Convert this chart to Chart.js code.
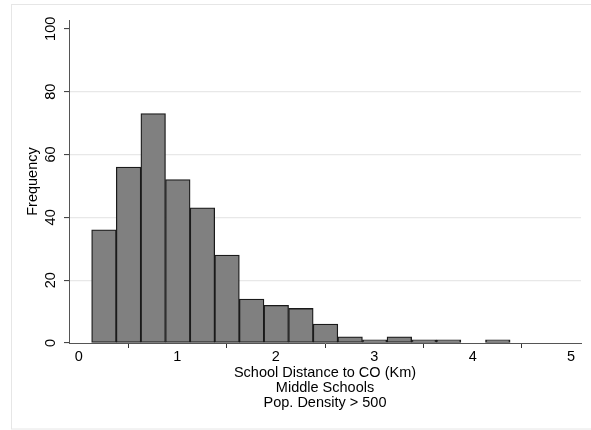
<!DOCTYPE html>
<html>
<head>
<meta charset="utf-8">
<script src="https://cdn.jsdelivr.net/npm/chart.js@4.4.0/dist/chart.umd.min.js"></script>
<style>
  html, body { margin: 0; padding: 0; background: #ffffff; }
  #wrap { width: 591px; height: 430px; position: relative; }
</style>
</head>
<body>
<div id="wrap"><canvas id="c" width="591" height="430"></canvas></div>
<script>
// Histogram bins (centres, km) and frequencies
const binCenters = [0.255, 0.505, 0.755, 1.005, 1.255, 1.505, 1.755, 2.005, 2.255, 2.505, 2.755, 3.005, 3.255, 3.505, 3.755, 4.005, 4.255];
const frequencies = [36, 56, 73, 52, 43, 28, 14, 12, 11, 6, 2, 1, 2, 1, 1, 0, 1];
const xTicks = [0, 1, 2, 3, 4, 5];
const yTicks = [0, 20, 40, 60, 80, 100];
const xTitle = ['School Distance to CO (Km)', 'Middle Schools', 'Pop. Density > 500'];
const yTitle = 'Frequency';

const FONT = 'Liberation Sans, Arial, Helvetica, sans-serif';
const FS = 14.5;

const framePlugin = {
  id: 'frame',
  beforeDraw(chart) {
    const ctx = chart.ctx;
    ctx.save();
    ctx.fillStyle = '#ffffff';
    ctx.fillRect(0, 0, chart.width, chart.height);
    ctx.strokeStyle = '#e6e6e6';
    ctx.lineWidth = 1;
    ctx.strokeRect(11.5, 4.5, 620, 424.5);
    ctx.restore();
  },
  afterDraw(chart) {
    // rotated y tick labels (reading bottom-to-top), positioned by the y scale
    const ys = chart.scales.y;
    const ctx = chart.ctx;
    ctx.save();
    ctx.fillStyle = '#000000';
    ctx.font = FS + 'px ' + FONT;
    ctx.textAlign = 'center';
    ctx.textBaseline = 'middle';
    ys.ticks.forEach(t => {
      const py = ys.getPixelForValue(t.value);
      ctx.save();
      ctx.translate(51, py);
      ctx.rotate(-Math.PI / 2);
      ctx.fillText(String(t.value), 0, 0);
      ctx.restore();
    });
    ctx.restore();
  }
};

new Chart(document.getElementById('c'), {
  type: 'bar',
  data: {
    datasets: [{
      data: binCenters.map((x, i) => ({ x: x, y: frequencies[i] })),
      backgroundColor: '#808080',
      borderColor: '#1a1a1a',
      borderWidth: 1.3,
      borderSkipped: false,
      barPercentage: 1.0,
      categoryPercentage: 1.0
    }]
  },
  options: {
    responsive: false,
    animation: false,
    devicePixelRatio: 1,
    layout: { padding: { left: 0, right: 10, top: 20, bottom: 0 } },
    plugins: { legend: { display: false }, tooltip: { enabled: false } },
    scales: {
      x: {
        type: 'linear',
        min: -0.1,
        max: 5.1,
        offset: false,
        afterBuildTicks(scale) { scale.ticks = xTicks.map(v => ({ value: v })); },
        afterFit(scale) { scale.height = 87; },
        grid: {
          drawOnChartArea: false,
          drawTicks: true,
          tickLength: 5,
          tickColor: '#333333',
          tickWidth: 1
        },
        border: { display: true, color: '#555555', width: 1 },
        ticks: {
          color: '#000000',
          font: { family: FONT, size: FS },
          padding: 0,
          maxRotation: 0,
          minRotation: 0,
          autoSkip: false
        },
        title: {
          display: true,
          text: xTitle,
          color: '#000000',
          font: { family: FONT, size: FS, lineHeight: 1.024 },
          padding: { top: 0, bottom: 20 }
        }
      },
      y: {
        type: 'linear',
        min: 0,
        max: 102.8,
        afterBuildTicks(scale) { scale.ticks = yTicks.map(v => ({ value: v })); },
        afterFit(scale) { scale.width = 69; },
        grid: {
          drawOnChartArea: true,
          drawTicks: true,
          tickLength: 5,
          color: ctx => (ctx.tick && (ctx.tick.value === 0 || ctx.tick.value === 100)) ? 'rgba(0,0,0,0)' : '#e8e8e8',
          lineWidth: 1.2,
          tickColor: '#333333',
          tickWidth: 1
        },
        border: { display: true, color: '#555555', width: 1 },
        ticks: { display: false },
        title: {
          display: true,
          text: yTitle,
          color: '#000000',
          font: { family: FONT, size: FS, lineHeight: 1.2 },
          padding: { top: 24, bottom: 0 }
        }
      }
    }
  },
  plugins: [framePlugin]
});
</script>
</body>
</html>
